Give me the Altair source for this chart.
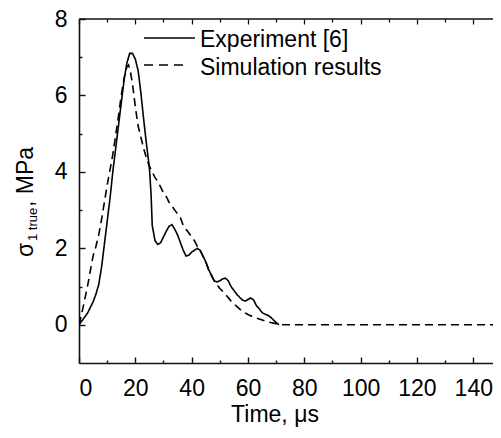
import altair as alt
import pandas as pd

# ---- data ----
exp_t = [0, 1, 2, 3, 4, 5, 6, 7, 8, 9, 10, 11, 12, 13, 14, 15, 16, 17, 18, 19, 20,
         21, 22, 23, 24, 25, 25.6, 26, 27, 28, 29, 30, 31, 32, 33, 34, 35, 36, 37, 38,
         39, 40, 41, 42, 43, 44, 45, 46, 47, 48, 49, 50, 51, 52, 53, 54, 55, 56, 57,
         58, 59, 60, 61, 62, 63, 64, 65, 66, 67, 68, 69, 70, 71]
exp_s = [0, 0.1, 0.2, 0.3, 0.45, 0.6, 0.8, 1.05, 1.5, 2.1, 2.7, 3.3, 4.0, 4.6, 5.2,
         5.8, 6.4, 6.85, 7.1, 7.1, 6.95, 6.65, 6.05, 5.35, 4.7, 4.1, 3.4, 2.6, 2.2,
         2.1, 2.15, 2.3, 2.45, 2.58, 2.62, 2.5, 2.35, 2.15, 1.95, 1.8, 1.82, 1.9, 1.95,
         2.0, 1.95, 1.8, 1.65, 1.45, 1.3, 1.15, 1.12, 1.15, 1.2, 1.22, 1.15, 1.0, 0.9,
         0.8, 0.72, 0.65, 0.62, 0.66, 0.7, 0.65, 0.5, 0.42, 0.32, 0.28, 0.25, 0.2,
         0.13, 0.06, 0.0]

sim_t = [0, 1, 2, 3, 4, 5, 6, 7, 8, 9, 10, 11, 12, 13, 14, 15, 16, 17, 17.6, 18.3,
         19, 20, 21, 22, 23, 24, 25, 26, 27, 28, 29, 30, 31, 32, 33, 34, 35, 36, 37,
         38, 39, 40, 41, 42, 43, 44, 45, 46, 47, 48, 49, 50, 52, 54, 56, 58, 60, 62,
         64, 66, 68, 70, 72, 150]
sim_s = [0, 0.3, 0.65, 1.0, 1.4, 1.8, 2.05, 2.35, 2.75, 3.2, 3.65, 4.05, 4.45, 4.95,
         5.45, 6.0, 6.45, 6.75, 6.8, 6.6, 6.3, 5.7, 5.2, 4.9, 4.6, 4.35, 4.15, 4.0,
         3.85, 3.75, 3.6, 3.45, 3.35, 3.2, 3.1, 3.0, 2.9, 2.8, 2.6, 2.5, 2.4, 2.3,
         2.2, 2.05, 1.95, 1.8, 1.65, 1.45, 1.3, 1.15, 1.05, 0.95, 0.8, 0.62, 0.48,
         0.35, 0.27, 0.2, 0.15, 0.1, 0.06, 0.03, 0.0, 0.0]

series_names = ["Experiment [6]", "Simulation results"]
x_major = [0, 20, 40, 60, 80, 100, 120, 140]
x_minor = [10, 30, 50, 70, 90, 110, 130]
y_major = [0, 2, 4, 6, 8]
y_minor = [1, 3, 5, 7]
x_domain = [0, 147]
y_domain = [-1, 8]

# ---- layout ----
W, H = 414, 344
FONT = "Liberation Sans"
FS = 23

df = pd.concat([
    pd.DataFrame({"t": exp_t, "s": exp_s, "series": series_names[0]}),
    pd.DataFrame({"t": sim_t, "s": sim_s, "series": series_names[1]}),
], ignore_index=True)
one = pd.DataFrame({"k": [0]})

xs = alt.Scale(domain=x_domain, nice=False, zero=False)
ys = alt.Scale(domain=y_domain, nice=False, zero=False)

base = alt.Chart(df)

lines = base.mark_line(color="black", strokeWidth=1.6, clip=True).encode(
    x=alt.X("t:Q", scale=xs, axis=alt.Axis(
        orient="bottom", values=x_major, format="d", ticks=False, grid=False,
        domainColor="#111", domainWidth=1.6, labelFont=FONT, labelFontSize=FS,
        labelColor="black", labelPadding=14, title=None)),
    y=alt.Y("s:Q", scale=ys, axis=alt.Axis(
        orient="left", values=y_major, format="d", ticks=False, grid=False,
        domainColor="#111", domainWidth=1.6, labelFont=FONT, labelFontSize=FS,
        labelColor="black", labelPadding=12, title=None)),
    strokeDash=alt.StrokeDash("series:N", scale=alt.Scale(
        domain=series_names, range=[[1, 0], [8, 5]]), legend=None),
    detail="series:N",
)


def tick_layer(xvals, yvals, size):
    return base.mark_point(opacity=0).encode(
        x=alt.X("t:Q", scale=xs, axis=alt.Axis(
            orient="bottom", offset=-size, tickSize=size, values=xvals,
            labels=False, domain=False, grid=False, tickColor="#111",
            tickWidth=1.4, title=None)),
        y=alt.Y("s:Q", scale=ys, axis=alt.Axis(
            orient="left", offset=-size, tickSize=size, values=yvals,
            labels=False, domain=False, grid=False, tickColor="#111",
            tickWidth=1.4, title=None)),
    )


def top_tick_layer(xvals, size):
    return base.mark_point(opacity=0).encode(
        x=alt.X("t:Q", scale=xs, axis=alt.Axis(
            orient="top", offset=-size, tickSize=size, values=xvals,
            labels=False, domain=False, grid=False, tickColor="#111",
            tickWidth=1.3, title=None)),
        y=alt.Y("s:Q", scale=ys, axis=None),
    )


top_border = alt.Chart(one).mark_rule(color="#111", strokeWidth=1.6).encode(
    x=alt.value(0), x2=alt.value(W + 2), y=alt.value(0))

leg_solid = alt.Chart(one).mark_rule(color="black", strokeWidth=1.5).encode(
    x=alt.value(65), x2=alt.value(116), y=alt.value(19))
leg_dash = alt.Chart(one).mark_rule(color="black", strokeWidth=1.5,
                                    strokeDash=[9, 6]).encode(
    x=alt.value(65), x2=alt.value(110), y=alt.value(46))
leg_t1 = alt.Chart(one).mark_text(text=series_names[0], font=FONT, fontSize=FS,
                                  align="left", baseline="alphabetic",
                                  color="black").encode(
    x=alt.value(121), y=alt.value(28))
leg_t2 = alt.Chart(one).mark_text(text=series_names[1], font=FONT, fontSize=FS,
                                  align="left", baseline="alphabetic",
                                  color="black").encode(
    x=alt.value(121), y=alt.value(56))

xtitle = alt.Chart(one).mark_text(text="Time, \u03bcs", font=FONT, fontSize=FS,
                                  align="center", baseline="alphabetic",
                                  color="black").encode(
    x=alt.value(196), y=alt.value(403))
yt_sigma = alt.Chart(one).mark_text(text="\u03c3", font=FONT, fontSize=FS,
                                    angle=270, align="left",
                                    baseline="alphabetic",
                                    color="black").encode(
    x=alt.value(-46), y=alt.value(238))
yt_sub = alt.Chart(one).mark_text(text="1 true", font=FONT, fontSize=13,
                                  angle=270, align="left",
                                  baseline="alphabetic",
                                  color="black").encode(
    x=alt.value(-42), y=alt.value(222))
yt_rest = alt.Chart(one).mark_text(text=", MPa", font=FONT, fontSize=FS,
                                   angle=270, align="left",
                                   baseline="alphabetic",
                                   color="black").encode(
    x=alt.value(-46), y=alt.value(188))

chart = alt.layer(
    lines,
    tick_layer(x_major, y_major, 6),
    tick_layer(x_minor, y_minor, 3),
    top_tick_layer(x_major, 5),
    top_tick_layer(x_minor, 3),
    top_border,
    leg_solid, leg_dash, leg_t1, leg_t2,
    xtitle, yt_sigma, yt_sub, yt_rest,
).resolve_axis(x="independent", y="independent").properties(
    width=W, height=H,
    padding={"left": 71, "top": 11, "right": 0, "bottom": 67},
    autosize=alt.AutoSizeParams(type="none"),
).configure_view(stroke=None)

chart.save("out.html", embed_options={"renderer": "svg", "actions": False})
